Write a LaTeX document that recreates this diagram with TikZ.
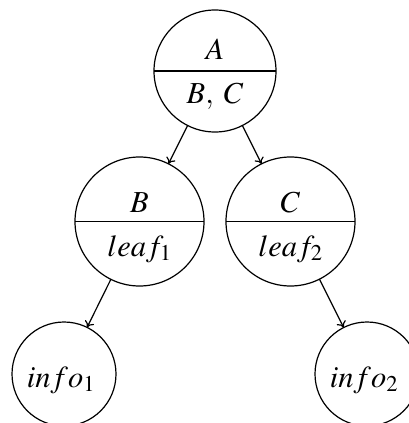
\documentclass[tikz,border=0pt]{standalone}
\usepackage{mathptmx}
\usetikzlibrary{arrows.meta}
\begin{document}
\begin{tikzpicture}[x=1pt,y=-1pt,
  circ/.style={draw,circle,inner sep=0pt,outer sep=0pt,line width=1.2pt},
  lbl/.style={anchor=base,inner sep=0pt,font=\fontsize{30.5}{36}\selectfont},
  link/.style={-{To[length=6pt,width=10pt,line width=1.2pt]},line width=1.2pt}]
\useasboundingbox (0,0) rectangle (408,423);
% split circles of the tree
\node[circ,minimum size=122pt] (A) at (215,71) {};
\node[circ,minimum size=129pt] (B) at (139.5,221.5) {};
\node[circ,minimum size=129pt] (C) at (290.5,221.5) {};
\node[circ,minimum size=104pt] (I1) at (64,374) {};
\node[circ,minimum size=104pt] (I2) at (367,374) {};
% dividing lines
\draw[line width=1.2pt] (A.west) -- (A.east);
\draw[line width=1.2pt] (B.west) -- (B.east);
\draw[line width=1.2pt] (C.west) -- (C.east);
% texts
\node[lbl] (tA) at (215,59) {$A$};
\node[lbl] (tBC) at (215,103) {$B,\;C$};
\node[lbl] (tB) at (139.5,212) {$B$};
\node[lbl] (tL1) at (139.5,256) {$leaf_1$};
\node[lbl] (tC) at (290.5,212) {$C$};
\node[lbl] (tL2) at (290.5,256) {$leaf_2$};
\node[lbl] (tI1) at (61,387) {$info_1$};
\node[lbl] (tI2) at (364,387) {$info_2$};
% connectors
\draw[link] (A) -- (B);
\draw[link] (A) -- (C);
\draw[link] (B) -- (I1);
\draw[link] (C) -- (I2);
\end{tikzpicture}
\end{document}
